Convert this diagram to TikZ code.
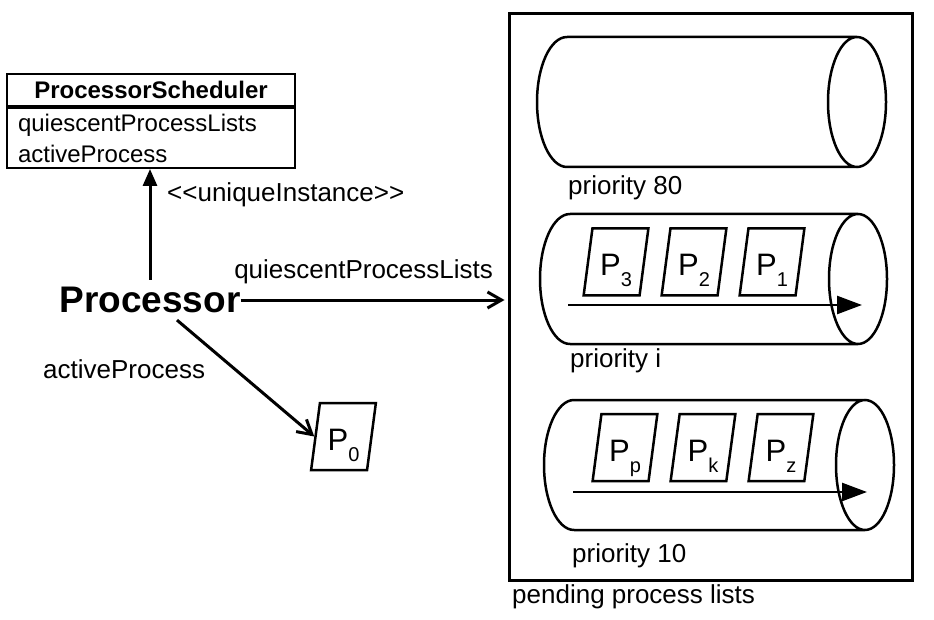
\documentclass[tikz,border=0pt]{standalone}
\usepackage{fontspec}
\setmainfont{Liberation Sans}
\usetikzlibrary{arrows.meta,shapes.geometric}
\newcommand{\lowidx}[1]{\raisebox{-11pt}[0pt][0pt]{\fontsize{20}{20}\selectfont #1}}
\tikzset{
  txt/.style={font=\fontsize{26}{30}\selectfont, inner sep=0pt},
  classbox/.style={draw, line width=2pt, minimum width=288pt, inner xsep=11pt},
  procbox/.style={draw, line width=2.5pt, trapezium, trapezium left angle=78,
    trapezium right angle=102, trapezium stretches=true, minimum width=65pt,
    minimum height=67pt, inner sep=0pt, text height=28pt, text depth=0pt,
    font=\fontsize{31}{31}\selectfont},
  tube/.style={line width=2.5pt},
  uparrow/.style={line width=3pt, -{Triangle[length=17pt,width=14pt]}},
  openarrow/.style={line width=3pt, -{Straight Barb[length=14pt,width=16pt]}},
  queue/.style={line width=2.5pt, -{Triangle[length=25pt,width=18pt]}}
}
\begin{document}
\begin{tikzpicture}[x=1pt, y=-1pt]
\useasboundingbox (0,0) rectangle (934,620);
\node[classbox, minimum height=32pt, font=\fontsize{24}{24}\selectfont\bfseries] (sched) at (151,90) {ProcessorScheduler};
\node[classbox, anchor=north, minimum height=60pt, align=left, text width=266pt,
  font=\fontsize{24}{31}\selectfont] (schedattr) at (sched.south) {quiescentProcessLists\\activeProcess};
\node[font=\fontsize{37}{37}\selectfont\bfseries, inner xsep=0pt, inner ysep=7pt] (proc) at (150,300) {Processor};
\draw[uparrow] (proc.north) -- (proc.north |- schedattr.south);
\node[txt, anchor=base west] (uniq) at (167,202) {<\kern0pt<uniqueInstance>\kern0pt>};
\node[draw, line width=3pt, minimum width=403pt, minimum height=566pt] (pending) at (710.5,297) {};
\node[txt, anchor=base west] (pendlbl) at (512,603) {pending process lists};
\draw[openarrow] (proc.east) -- ([xshift=-3pt]pending.west |- proc.east)
  node[txt, midway, above=15pt, xshift=-9pt] (qlbl) {quiescentProcessLists};
\node[procbox] (p0) at (343.5,436.5) {P\lowidx{0}};
\draw[openarrow] ([xshift=27pt]proc.south) -- (p0.west);
\node[txt, anchor=base west] (actlbl) at (43,378) {activeProcess};
\foreach \xl/\xr/\yt in {567/857/37, 570/858/214, 574/865/400}
  \draw[tube] (\xl,\yt) -- (\xr,\yt) (\xl,\yt+130) -- (\xr,\yt+130)
    (\xl,\yt) arc[start angle=90, end angle=270, x radius=30pt, y radius=65pt]
    (\xr,\yt+65) ellipse[x radius=29pt, y radius=65pt];
\node[txt, anchor=base west] (prio80) at (568,195) {priority 80};
\node[txt, anchor=base west] (prioi) at (570,367) {priority i};
\node[txt, anchor=base west] (prio10) at (572,562) {priority 10};
\foreach \n/\x in {3/616, 2/694, 1/772}
  \node[procbox] (p\n) at (\x,262) {P\lowidx{\n}};
\foreach \n/\x in {p/625, k/703, z/781}
  \node[procbox] (p\n) at (\x,447.5) {P\lowidx{\n}};
\coordinate (qi-s) at (568,305);
\coordinate (qi-e) at (862,305);
\coordinate (q10-s) at (573,492);
\coordinate (q10-e) at (867,492);
\draw[queue] (qi-s) -- (qi-e);
\draw[queue] (q10-s) -- (q10-e);
\end{tikzpicture}
\end{document}
